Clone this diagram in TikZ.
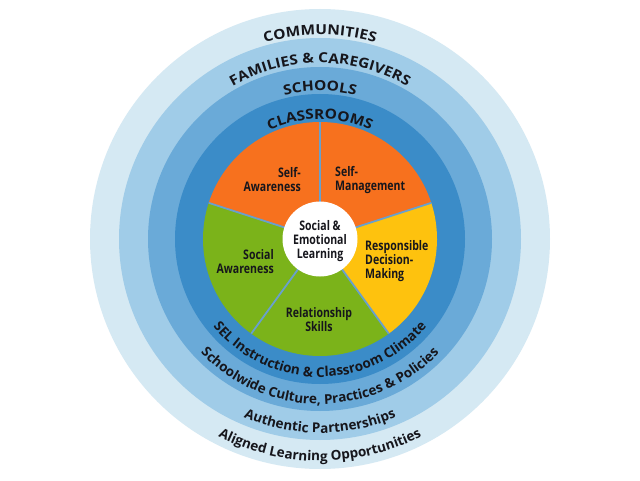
\documentclass[tikz,border=0pt]{standalone}
\usepackage{fontspec}
\setmainfont{Open Sans}
\newfontfamily\condfont{Open Sans}[FakeStretch=0.8]
\newfontfamily\capsfont{Open Sans}[FakeStretch=1.12]
\usetikzlibrary{decorations.text}
\definecolor{commC}{RGB}{213,233,243}
\definecolor{famC}{RGB}{160,204,232}
\definecolor{schC}{RGB}{106,170,216}
\definecolor{clsC}{RGB}{59,140,200}
\definecolor{orangeC}{RGB}{247,113,30}
\definecolor{yellowC}{RGB}{254,194,14}
\definecolor{greenC}{RGB}{123,179,26}
\definecolor{divC}{RGB}{105,160,205}
\definecolor{txtC}{RGB}{22,22,28}
\newcommand\ringcaps{\capsfont\bfseries\fontsize{13.8}{15}\selectfont}
\newcommand\ringlow{\bfseries\fontsize{13.5}{15}\selectfont}
\tikzset{
  lbl/.style={font=\condfont\bfseries\fontsize{13.2}{14}\selectfont, text=txtC, inner sep=0pt},
  divider/.style={draw=divC, line width=1.8pt},
  captext/.style={decorate, decoration={text along path, text align=center, text color=txtC, text={|\ringcaps|#1}}},
  lowtext/.style={decorate, decoration={text along path, text align=center, text color=txtC, text={|\ringlow|#1}}}
}
\begin{document}
\begin{tikzpicture}[x=1pt,y=1pt]
\useasboundingbox (0,0) rectangle (640,480);
\fill[white] (0,0) rectangle (640,480);
\coordinate (C) at (320,241);
\fill[commC] (C) circle[radius=230];
\fill[famC] (C) circle[radius=201];
\fill[schC] (C) circle[radius=172];
\fill[clsC] (C) circle[radius=145];
\begin{scope}[shift={(320,241)}]
\fill[orangeC] (0,0) -- (90:117) arc[start angle=90,end angle=162,radius=117] -- cycle;
\fill[orangeC] (0,0) -- (18:117) arc[start angle=18,end angle=90,radius=117] -- cycle;
\fill[yellowC] (0,0) -- (-54:117) arc[start angle=-54,end angle=18,radius=117] -- cycle;
\fill[greenC] (0,0) -- (-126:117) arc[start angle=-126,end angle=-54,radius=117] -- cycle;
\fill[greenC] (0,0) -- (162:117) arc[start angle=162,end angle=234,radius=117] -- cycle;
\foreach \a in {90,18,-54,-126,162} \draw[divider] (0,0) -- (\a:117);
\path[captext={CLASSROOMS}] (170:120) arc[start angle=170,end angle=10,radius=120];
\path[captext={SCHOOLS}] (170:148) arc[start angle=170,end angle=10,radius=148];
\path[captext={FAMILIES {\&} CAREGIVERS}] (170:176) arc[start angle=170,end angle=10,radius=176];
\path[captext={COMMUNITIES}] (170:204) arc[start angle=170,end angle=10,radius=204];
\path[lowtext={SEL Instruction {\&} Classroom Climate}] (190:138) arc[start angle=190,end angle=350,radius=138];
\path[lowtext={Schoolwide Culture, Practices {\&} Policies}] (190:165) arc[start angle=190,end angle=350,radius=165];
\path[lowtext={Authentic Partnerships}] (190:194) arc[start angle=190,end angle=350,radius=194];
\path[lowtext={Aligned Learning Opportunities}] (190:222) arc[start angle=190,end angle=350,radius=222];
\end{scope}
\node[circle, fill=white, minimum size=75pt, inner sep=0pt] (core) at (C) {};
\node[lbl, align=center] (sel) at (320,239) {Social \&\\Emotional\\Learning};
\node[lbl, align=right, anchor=east] (sa) at (301,300) {Self-\\Awareness};
\node[lbl, align=left, anchor=west] (sm) at (335,299.5) {Self-\\Management};
\node[lbl, align=left, anchor=west] (rdm) at (365,218.5) {Responsible\\Decision-\\Making};
\node[lbl, align=right, anchor=east] (soc) at (274,218.5) {Social\\Awareness};
\node[lbl, align=center] (rs) at (319,160) {Relationship\\Skills};
\end{tikzpicture}
\end{document}
